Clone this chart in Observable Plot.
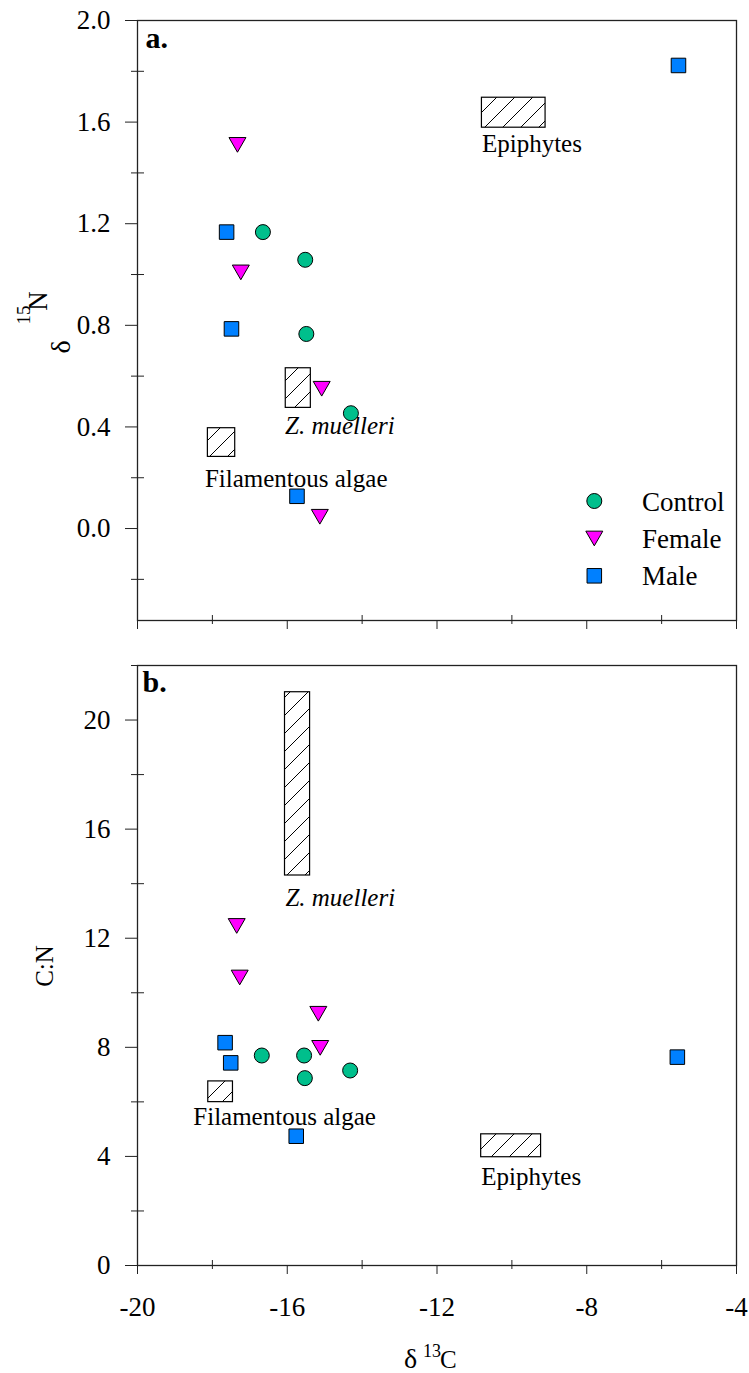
<!DOCTYPE html>
<html><head><meta charset="utf-8">
<script src="https://cdn.jsdelivr.net/npm/d3@7"></script>
<script src="https://cdn.jsdelivr.net/npm/@observablehq/plot@0.6"></script>
<style>
body{margin:0;background:#fff;}
#chart{width:749px;height:1373px;}
#chart svg{display:block;}
</style></head><body><div id="chart"></div>
<script>
// ---------- data ----------
const groups = ["Control", "Female", "Male"];
const groupColors = ["#00BF8C", "#FF00FF", "#0080FF"];

// Panel a: δ13C (x) vs δ15N (y)
const aControlX = [-16.65, -15.52, -15.49, -14.30];
const aControlY = [1.167, 1.058, 0.766, 0.454];
const aFemaleX  = [-17.33, -17.24, -15.08, -15.13];
const aFemaleY  = [1.52, 1.018, 0.56, 0.056];
const aMaleX    = [-17.62, -17.49, -15.74, -5.55];
const aMaleY    = [1.167, 0.786, 0.127, 1.823];

// Panel b: δ13C (x) vs C:N (y)
const bControlX = [-16.68, -15.55, -15.53, -14.32];
const bControlY = [7.70, 7.70, 6.87, 7.15];
const bFemaleX  = [-17.35, -17.27, -15.17, -15.12];
const bFemaleY  = [12.54, 10.65, 9.32, 8.07];
const bMaleX    = [-17.66, -17.51, -15.76, -5.58];
const bMaleY    = [8.17, 7.43, 4.74, 7.64];

// Food sources (ranges)
const sourceNames = ["Epiphytes", "Z. muelleri", "Filamentous algae"];
const aSrcX1 = [-10.80, -16.04, -18.12];
const aSrcX2 = [-9.10, -15.37, -17.39];
const aSrcY1 = [1.578, 0.475, 0.282];
const aSrcY2 = [1.696, 0.631, 0.395];
const bSrcX1 = [-10.82, -16.06, -18.11];
const bSrcX2 = [-9.22, -15.39, -17.45];
const bSrcY1 = [3.97, 14.30, 5.99];
const bSrcY2 = [4.81, 21.02, 6.75];

// source label anchors (left start, vertical middle)
const aLabX = [-10.80, -16.06, -18.20];
const aLabY = [1.514, 0.404, 0.197];
const bLabX = [-10.82, -16.05, -18.51];
const bLabY = [3.23, 13.49, 5.46];

// ticks
const xMajor = [-20, -16, -12, -8, -4];
const xMinor = [-18, -14, -10, -6];
const aYMajor = [0.0, 0.4, 0.8, 1.2, 1.6, 2.0];
const aYMinor = [-0.2, 0.2, 0.6, 1.0, 1.4, 1.8];
const bYMajor = [0, 4, 8, 12, 16, 20];
const bYMinor = [2, 6, 10, 14, 18, 22];

// ---------- helpers ----------
const FONT = "'Liberation Serif', 'Times New Roman', Times, serif";
const rows = (xs, ys) => xs.map((x, i) => ({x, y: ys[i]}));
const srcRows = (x1, x2, y1, y2) => sourceNames.map((n, i) => ({name: n, x1: x1[i], x2: x2[i], y1: y1[i], y2: y2[i]}));
const labRows = (xs, ys) => sourceNames.map((n, i) => ({name: n, x: xs[i], y: ys[i]}));
const AX = "#222";

function panel(o) {
  const src = srcRows(...o.src);
  const labs = labRows(...o.lab);
  return Plot.plot({
    width: 749,
    height: o.height,
    marginLeft: 137,
    marginRight: 13,
    marginTop: o.marginTop,
    marginBottom: o.marginBottom,
    style: {fontFamily: FONT, background: "#fff", color: "#000"},
    x: {domain: [-20, -4]},
    y: {domain: o.yDomain},
    marks: [
      Plot.rect(src, {x1: "x1", x2: "x2", y1: "y1", y2: "y2", fill: "url(#hatch)", stroke: "#000", strokeWidth: 1.2}),
      Plot.text(labs.filter(d => d.name !== "Z. muelleri"), {x: "x", y: "y", text: "name", textAnchor: "start", lineAnchor: "middle", fontSize: 25, fill: "#000"}),
      Plot.text(labs.filter(d => d.name === "Z. muelleri"), {x: "x", y: "y", text: "name", textAnchor: "start", lineAnchor: "middle", fontSize: 25, fontStyle: "italic", fill: "#000"}),
      Plot.frame({stroke: AX, strokeWidth: 1.3}),
      Plot.axisY(o.yMajor, {tickSize: 12, tickPadding: 15, tickFormat: o.yFmt, fontSize: 27, stroke: AX, fill: "#000", label: null}),
      Plot.axisY(o.yMinor, {tickSize: 13, dx: 7, tickFormat: () => "", stroke: AX, label: null}),
      Plot.axisX(xMajor, {tickSize: 9, tickPadding: 22, tickFormat: o.xLabels ? (d => String(d)) : (() => ""), fontSize: 27, stroke: AX, fill: "#000", label: null}),
      Plot.axisX(xMinor, {tickSize: 9, dy: -5, tickFormat: () => "", stroke: AX, label: null}),
      Plot.dot(rows(...o.control), {x: "x", y: "y", symbol: "circle", r: 7.5, fill: groupColors[0], stroke: "#000", strokeWidth: 1}),
      Plot.dot(rows(...o.female), {x: "x", y: "y", symbol: "triangle", rotate: 180, r: 6.3, fill: groupColors[1], stroke: "#000", strokeWidth: 1}),
      Plot.dot(rows(...o.male), {x: "x", y: "y", symbol: "square", r: 8.2, fill: groupColors[2], stroke: "#000", strokeWidth: 1}),
      Plot.text([o.tag], {frameAnchor: "top-left", dx: o.tagDx, dy: o.tagDy, lineAnchor: "top", textAnchor: "start", fontSize: 30, fontWeight: "bold", fill: "#000"})
    ]
  });
}

const chart = document.getElementById("chart");

const svgA = panel({
  height: 640, marginTop: 20, marginBottom: 20,
  yDomain: [-0.362, 2.0], yMajor: aYMajor, yMinor: aYMinor, yFmt: d => d.toFixed(1),
  xLabels: false,
  src: [aSrcX1, aSrcX2, aSrcY1, aSrcY2], lab: [aLabX, aLabY],
  control: [aControlX, aControlY], female: [aFemaleX, aFemaleY], male: [aMaleX, aMaleY],
  tag: "a.", tagDx: 8, tagDy: 5.7
});
const svgB = panel({
  height: 733, marginTop: 25, marginBottom: 108,
  yDomain: [0, 22], yMajor: bYMajor, yMinor: bYMinor, yFmt: d => String(d),
  xLabels: true,
  src: [bSrcX1, bSrcX2, bSrcY1, bSrcY2], lab: [bLabX, bLabY],
  control: [bControlX, bControlY], female: [bFemaleX, bFemaleY], male: [bMaleX, bMaleY],
  tag: "b.", tagDx: 5, tagDy: 5.4
});
chart.appendChild(svgA);
chart.appendChild(svgB);

// hatch pattern
d3.select(svgA).insert("defs", ":first-child").html(
  '<pattern id="hatch" patternUnits="userSpaceOnUse" width="18" height="18">' +
  '<path d="M-3,3 L3,-3 M0,18 L18,0 M15,21 L21,15" stroke="#000" stroke-width="1" fill="none"/></pattern>');

// axis titles
const sA = d3.select(svgA);
const rotText = (sel, x, y, txt, size) => sel.append("text")
  .attr("transform", `translate(${x},${y}) rotate(-90)`)
  .attr("text-anchor", "middle").attr("font-family", FONT).attr("font-size", size)
  .attr("fill", "#000").text(txt);
rotText(sA, 70, 347, "δ", 28);
rotText(sA, 30, 315, "15", 19);
rotText(sA, 47, 301, "N", 27);

const sB = d3.select(svgB);
rotText(sB, 53, 966 - 640, "C:N", 25);
const plainText = (sel, x, y, txt, size) => sel.append("text")
  .attr("x", x).attr("y", y).attr("text-anchor", "start")
  .attr("font-family", FONT).attr("font-size", size)
  .attr("fill", "#000").text(txt);
plainText(sB, 404, 1368 - 640, "δ", 28);
plainText(sB, 423, 1357 - 640, "13", 18);
plainText(sB, 440, 1368 - 640, "C", 25);

// legend (inside panel a)
const legSymbols = [d3.symbolCircle, d3.symbolTriangle, d3.symbolSquare];
const legSizes = [Math.PI * 7.5 * 7.5, Math.PI * 6.3 * 6.3, Math.PI * 8.2 * 8.2];
const legY = [501, 538.5, 575.8];
const legTextY = [510.5, 547.5, 585];
groups.forEach((g, i) => {
  const rot = i === 1 ? " rotate(180)" : "";
  const cy = i === 1 ? legY[i] - 2.45 : legY[i];
  sA.append("path")
    .attr("d", d3.symbol(legSymbols[i], legSizes[i])())
    .attr("transform", `translate(594.3,${cy})${rot}`)
    .attr("fill", groupColors[i]).attr("stroke", "#000").attr("stroke-width", 1);
  plainText(sA, 642, legTextY[i], g, 27);
});
</script>
</body></html>
